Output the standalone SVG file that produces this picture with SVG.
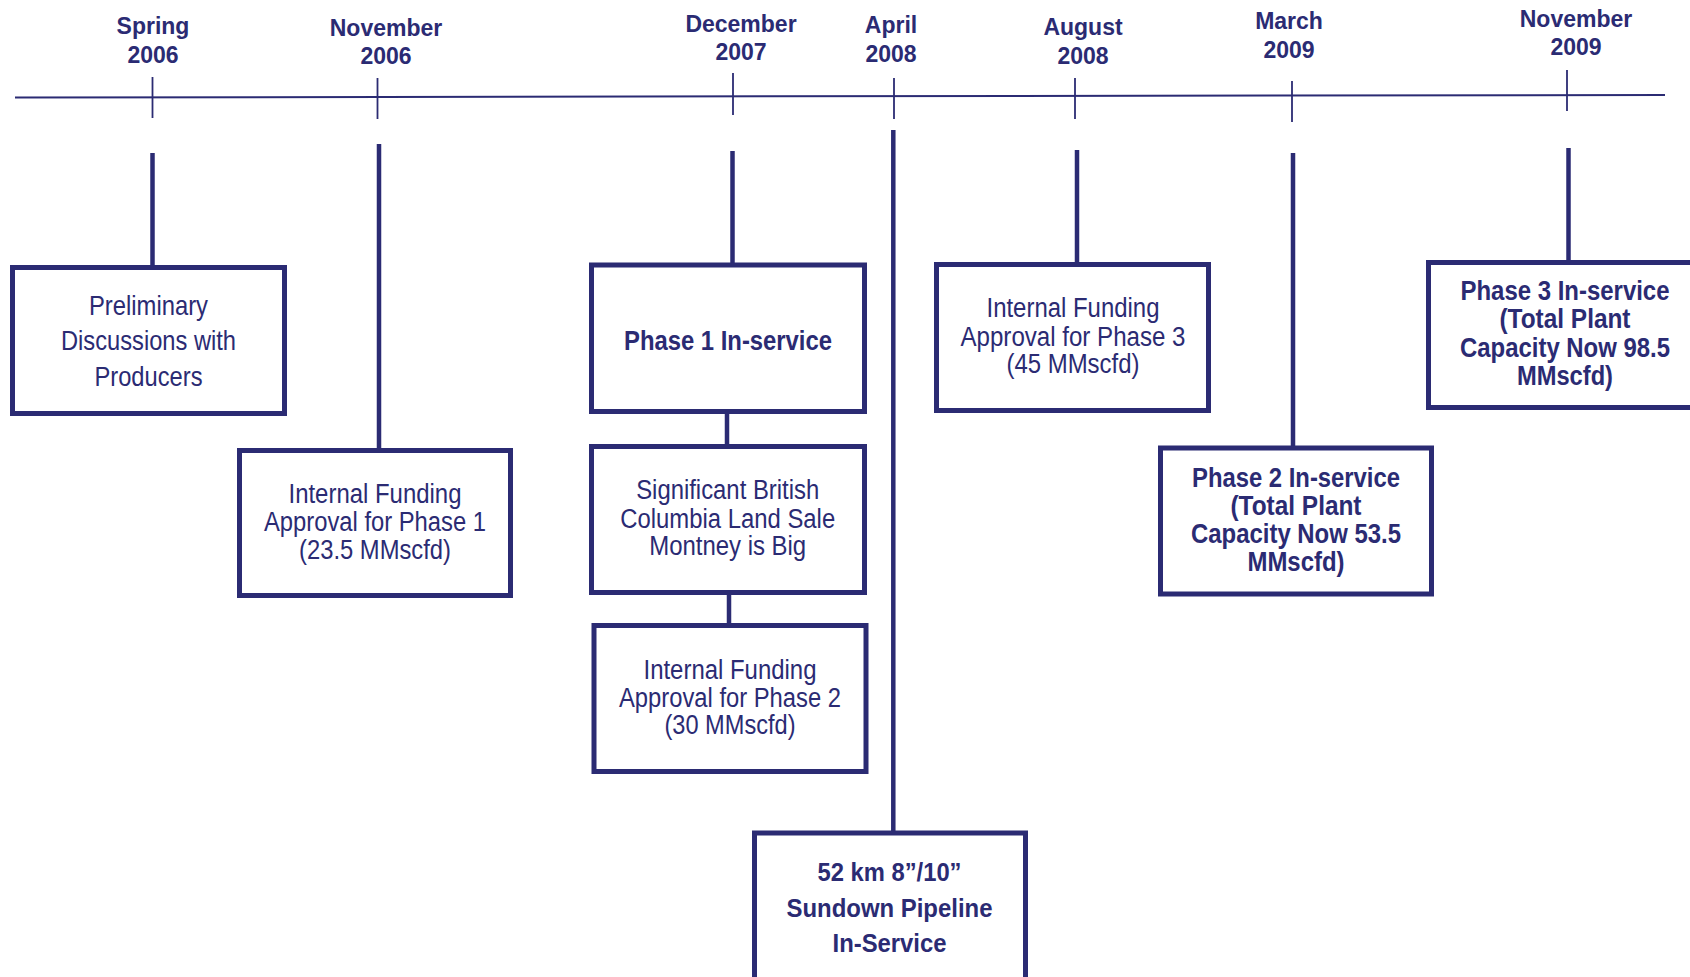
<svg xmlns="http://www.w3.org/2000/svg" width="1690" height="977" viewBox="0 0 1690 977">
<style>
.bg{fill:#ffffff}
.axis{stroke:#2b2b73;stroke-width:2;fill:none}
.tick{stroke:#2b2b73;stroke-width:1.8;fill:none}
.conn{stroke:#2b2b73;stroke-width:4.5;fill:none}
.box{fill:#ffffff;stroke:#2b2b73;stroke-width:5}
.date{font-family:"Liberation Sans",Arial,sans-serif;font-weight:bold;font-size:23px;fill:#2b2b73;text-anchor:middle}
.t{font-family:"Liberation Sans",Arial,sans-serif;font-size:27px;fill:#2b2b73;text-anchor:middle}
.tb{font-family:"Liberation Sans",Arial,sans-serif;font-weight:bold;font-size:27px;fill:#2b2b73;text-anchor:middle}
</style>
<rect class="bg" x="0" y="0" width="1690" height="977"/>

<g id="timeline">
  <line class="axis" x1="15" y1="97.5" x2="1665" y2="95"/>
  <line class="tick" x1="152.5" y1="77" x2="152.5" y2="118"/>
  <line class="tick" x1="377.5" y1="78" x2="377.5" y2="119"/>
  <line class="tick" x1="733" y1="73" x2="733" y2="115"/>
  <line class="tick" x1="894" y1="78" x2="894" y2="119"/>
  <line class="tick" x1="1075" y1="78" x2="1075" y2="119"/>
  <line class="tick" x1="1292" y1="81" x2="1292" y2="122"/>
  <line class="tick" x1="1567" y1="70" x2="1567" y2="111"/>
</g>

<g id="dates">
  <text class="date" x="153" y="34">Spring</text>
  <text class="date" x="153" y="63">2006</text>
  <text class="date" x="386" y="36">November</text>
  <text class="date" x="386" y="64">2006</text>
  <text class="date" x="741" y="32">December</text>
  <text class="date" x="741" y="60">2007</text>
  <text class="date" x="891" y="33">April</text>
  <text class="date" x="891" y="62">2008</text>
  <text class="date" x="1083" y="35">August</text>
  <text class="date" x="1083" y="64">2008</text>
  <text class="date" x="1289" y="29">March</text>
  <text class="date" x="1289" y="58">2009</text>
  <text class="date" x="1576" y="27">November</text>
  <text class="date" x="1576" y="55">2009</text>
</g>

<g id="connectors">
  <line class="conn" x1="152.5" y1="153" x2="152.5" y2="268"/>
  <line class="conn" x1="379" y1="144" x2="379" y2="451"/>
  <line class="conn" x1="732.5" y1="151" x2="732.5" y2="265"/>
  <line class="conn" x1="727" y1="411" x2="727" y2="447"/>
  <line class="conn" x1="729" y1="592" x2="729" y2="626"/>
  <line class="conn" x1="893.3" y1="130" x2="893.3" y2="833"/>
  <line class="conn" x1="1077" y1="150" x2="1077" y2="265"/>
  <line class="conn" x1="1293" y1="153" x2="1293" y2="448"/>
  <line class="conn" x1="1568.5" y1="148" x2="1568.5" y2="263"/>
</g>

<g id="prelim">
  <rect class="box" x="12.5" y="267.5" width="272" height="146"/>
  <text class="t" style="font-size:28px" x="148.5" y="315" textLength="119" lengthAdjust="spacingAndGlyphs">Preliminary</text>
  <text class="t" style="font-size:28px" x="148.5" y="350" textLength="175" lengthAdjust="spacingAndGlyphs">Discussions with</text>
  <text class="t" style="font-size:28px" x="148.5" y="386" textLength="108" lengthAdjust="spacingAndGlyphs">Producers</text>
</g>

<g id="funding1">
  <rect class="box" x="239.5" y="450.5" width="271" height="145"/>
  <text class="t" x="375" y="503" textLength="173" lengthAdjust="spacingAndGlyphs">Internal Funding</text>
  <text class="t" x="375" y="531" textLength="222" lengthAdjust="spacingAndGlyphs">Approval for Phase 1</text>
  <text class="t" x="375" y="559" textLength="152" lengthAdjust="spacingAndGlyphs">(23.5 MMscfd)</text>
</g>

<g id="phase1">
  <rect class="box" x="591.5" y="265" width="273" height="146.5"/>
  <text class="tb" style="font-size:28px" x="728" y="349.5" textLength="208" lengthAdjust="spacingAndGlyphs">Phase 1 In-service</text>
</g>

<g id="landsale">
  <rect class="box" x="591.5" y="446.5" width="273" height="146"/>
  <text class="t" x="727.7" y="499" textLength="183" lengthAdjust="spacingAndGlyphs">Significant British</text>
  <text class="t" x="727.7" y="527.5" textLength="215" lengthAdjust="spacingAndGlyphs">Columbia Land Sale</text>
  <text class="t" x="727.7" y="555" textLength="157" lengthAdjust="spacingAndGlyphs">Montney is Big</text>
</g>

<g id="funding2">
  <rect class="box" x="594" y="625.5" width="272" height="146"/>
  <text class="t" x="730" y="679" textLength="173" lengthAdjust="spacingAndGlyphs">Internal Funding</text>
  <text class="t" x="730" y="706.6" textLength="222" lengthAdjust="spacingAndGlyphs">Approval for Phase 2</text>
  <text class="t" x="730" y="734" textLength="131" lengthAdjust="spacingAndGlyphs">(30 MMscfd)</text>
</g>

<g id="funding3">
  <rect class="box" x="936.5" y="264.5" width="272" height="146"/>
  <text class="t" x="1073" y="317" textLength="173" lengthAdjust="spacingAndGlyphs">Internal Funding</text>
  <text class="t" x="1073" y="346" textLength="225" lengthAdjust="spacingAndGlyphs">Approval for Phase 3</text>
  <text class="t" x="1073" y="373" textLength="133" lengthAdjust="spacingAndGlyphs">(45 MMscfd)</text>
</g>

<g id="phase2">
  <rect class="box" x="1160.5" y="448" width="271" height="146"/>
  <text class="tb" x="1296" y="486.7" textLength="208" lengthAdjust="spacingAndGlyphs">Phase 2 In-service</text>
  <text class="tb" x="1296" y="515" textLength="131" lengthAdjust="spacingAndGlyphs">(Total Plant</text>
  <text class="tb" x="1296" y="543" textLength="210" lengthAdjust="spacingAndGlyphs">Capacity Now 53.5</text>
  <text class="tb" x="1296" y="571" textLength="97" lengthAdjust="spacingAndGlyphs">MMscfd)</text>
</g>

<g id="phase3">
  <rect class="box" x="1428.5" y="262.5" width="273" height="145"/>
  <text class="tb" x="1565" y="300" textLength="209" lengthAdjust="spacingAndGlyphs">Phase 3 In-service</text>
  <text class="tb" x="1565" y="328" textLength="131" lengthAdjust="spacingAndGlyphs">(Total Plant</text>
  <text class="tb" x="1565" y="356.7" textLength="210" lengthAdjust="spacingAndGlyphs">Capacity Now 98.5</text>
  <text class="tb" x="1565" y="385" textLength="96" lengthAdjust="spacingAndGlyphs">MMscfd)</text>
</g>

<g id="pipeline">
  <rect class="box" x="754.5" y="833" width="271" height="200"/>
  <text class="tb" style="font-size:25px" x="889.5" y="881" textLength="144" lengthAdjust="spacingAndGlyphs">52 km 8”/10”</text>
  <text class="tb" style="font-size:25px" x="889.5" y="917" textLength="206" lengthAdjust="spacingAndGlyphs">Sundown Pipeline</text>
  <text class="tb" style="font-size:25px" x="889.5" y="951.7" textLength="114" lengthAdjust="spacingAndGlyphs">In-Service</text>
</g>
</svg>
